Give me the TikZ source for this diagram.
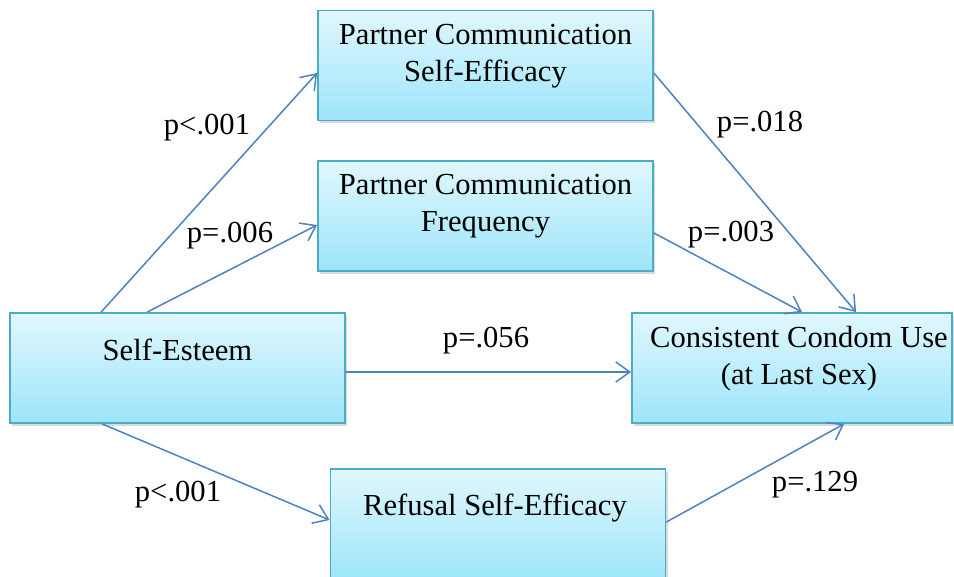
\documentclass[tikz,border=0pt]{standalone}
\usepackage{fontspec}
\setmainfont{Liberation Serif}
\usetikzlibrary{arrows.meta,shadows,calc}
\definecolor{boxline}{RGB}{75,172,198}
\definecolor{boxtop}{RGB}{224,247,253}
\definecolor{boxbot}{RGB}{158,229,250}
\definecolor{arrowblue}{RGB}{79,129,189}

\begin{document}
\begin{tikzpicture}[x=0.5pt,y=-0.5pt,
	box/.style={draw=boxline, line width=0.9pt, top color=boxtop, bottom color=boxbot,
		minimum width=167.5pt, minimum height=55pt, inner sep=0pt,
		drop shadow={opacity=0.3, shadow xshift=1pt, shadow yshift=-1.5pt}},
	boxtext/.style={anchor=north, align=center, inner sep=0pt, font=\fontsize{15.3}{18.5}\selectfont},
	pval/.style={anchor=base, inner sep=0pt, font=\fontsize{15.3}{18}\selectfont},
	link/.style={draw=arrowblue, line width=0.75pt, -{Straight Barb[length=7pt,width=10pt]}}]
	\useasboundingbox (0,0) rectangle (954,577);

	% boxes
	\node[box] (pcse) at (485.5,65.5) {};
	\node[box] (pcf) at (485.5,216) {};
	\node[box] (se) at (177.5,368) {};
	\node[box, minimum width=160pt] (ccu) at (792,368) {};
	\node[box] (rse) at (498,524) {};

	\node[boxtext] (pcse-t) at (485.5,24) {Partner Communication\\Self-Efficacy};
	\node[boxtext] (pcf-t) at (485.5,174) {Partner Communication\\Frequency};
	\node[boxtext] (se-t) at (177.5,339) {Self-Esteem};
	\node[boxtext] (ccu-t) at (799,326) {Consistent Condom Use\\(at Last Sex)};
	\node[boxtext] (rse-t) at (495,494) {Refusal Self-Efficacy};

	% paths
	\draw[link] ($(se.north west)+(92,0)$) -- ($(pcse.west)+(0,7.5)$);
	\draw[link] ($(se.north west)+(138,0)$) -- ($(pcf.west)+(0,9)$);
	\draw[link] ($(se.east)+(0,4)$) -- ($(ccu.west)+(0,4)$);
	\draw[link] ($(se.south west)+(93,0)$) -- ($(rse.west)+(0,-4)$);
	\draw[link] ($(pcse.east)+(0,7.5)$) -- ($(ccu.north west)+(225,0)$);
	\draw[link] ($(pcf.east)+(0,17)$) -- ($(ccu.north west)+(171,0)$);
	\draw[link] ($(rse.east)+(0,-2)$) -- ($(ccu.south west)+(213,0)$);

	% p values
	\node[pval] (p-pcse) at (207,135) {p<.001};
	\node[pval] (p-pcf) at (230,243) {p=.006};
	\node[pval] (p-direct) at (486,348) {p=.056};
	\node[pval] (p-rse) at (178,502) {p<.001};
	\node[pval] (p-pcse-ccu) at (760,132) {p=.018};
	\node[pval] (p-pcf-ccu) at (731,242) {p=.003};
	\node[pval] (p-rse-ccu) at (815,492) {p=.129};
\end{tikzpicture}
\end{document}
